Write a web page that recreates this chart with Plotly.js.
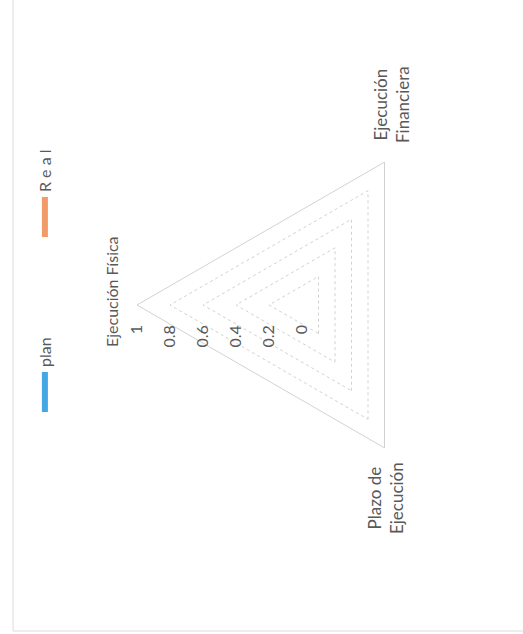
<!DOCTYPE html>
<html>
<head>
<meta charset="utf-8">
<script src="https://cdn.plot.ly/plotly-3.0.1.min.js"></script>
<style>
  html, body { margin: 0; padding: 0; background: #ffffff; overflow: hidden; }
  #wrap { position: absolute; left: 0; top: 0; width: 523px; height: 634px; overflow: hidden; }
  #chart { position: absolute; left: 0; top: 0; width: 634px; height: 523px;
           transform-origin: 0 0; transform: translate(0, 634px) rotate(-90deg); }
</style>
</head>
<body>
<div id="wrap"><div id="chart"></div></div>
<script>
// ---- data ----
const categories = ['Ejecución Física', 'Ejecución Financiera', 'Plazo de Ejecución'];
const categoryLabels = ['Ejecución Física', 'Ejecución<br>Financiera', 'Plazo de<br>Ejecución'];
const seriesNames = ['plan', 'R e a l'];
const planValues = [0, 0, 0];
const realValues = [0, 0, 0];
const radialTickVals = [0, 0.2, 0.4, 0.6, 0.8, 1];
const radialTickText = ['0', '0.2', '0.4', '0.6', '0.8', '1'];

const close = a => a.concat([a[0]]);
const textColor = '#595959';
const gridColor = '#d2d2d2';
const fontFam = 'Lato, "Open Sans", sans-serif';

const traces = [
  { type: 'scatterpolar', name: seriesNames[0], r: close(planValues), theta: close(categories),
    mode: 'lines', line: { color: '#45a6e4', width: 6 }, hoverinfo: 'skip' },
  { type: 'scatterpolar', name: seriesNames[1], r: close(realValues), theta: close(categories),
    mode: 'lines', line: { color: '#f29a68', width: 6 }, hoverinfo: 'skip' }
];

const W = 634, H = 523;
const cx = 329, cy = 302, R = 165;

// label placement (paper fractions) for the three category labels
const labelPos = [
  { x: 342 / W, y: 1 - 112 / H, size: 16 },
  { x: 529 / W, y: 1 - 391 / H, size: 17 },
  { x: 136 / W, y: 1 - 385 / H, size: 17 }
];

const layout = {
  width: W, height: H,
  margin: { l: 0, r: 0, t: 0, b: 0 },
  paper_bgcolor: '#ffffff',
  font: { family: fontFam, size: 15, color: textColor },
  showlegend: true,
  legend: {
    orientation: 'h', x: 217 / W, xanchor: 'left', y: 1 - 45 / H, yanchor: 'middle',
    itemwidth: 40, entrywidth: 120, font: { size: 16, color: textColor },
    bgcolor: 'rgba(0,0,0,0)'
  },
  polar: {
    domain: { x: [(cx - R) / W, (cx + R) / W], y: [(H - cy - R) / H, (H - cy + R) / H] },
    gridshape: 'linear',
    bgcolor: 'rgba(0,0,0,0)',
    radialaxis: {
      range: [0, 1], angle: 90, side: 'counterclockwise',
      tickvals: radialTickVals, ticktext: radialTickText, tickangle: 90,
      showline: false, showgrid: true, gridcolor: gridColor, griddash: 'dot', gridwidth: 1,
      ticks: 'outside', ticklen: 14, tickcolor: 'rgba(0,0,0,0)',
      tickfont: { size: 16, color: textColor }
    },
    angularaxis: {
      type: 'category', categoryarray: categories,
      rotation: 90, direction: 'clockwise',
      showticklabels: false,
      showgrid: false, showline: true, linecolor: gridColor, linewidth: 1,
      ticks: ''
    }
  },
  annotations: categoryLabels.map((t, i) => ({
    text: t, xref: 'paper', yref: 'paper', x: labelPos[i].x, y: labelPos[i].y,
    xanchor: 'center', yanchor: 'middle', align: 'center', showarrow: false,
    font: { size: labelPos[i].size, color: textColor, family: fontFam }
  })),
  shapes: [
    { type: 'rect', xref: 'paper', yref: 'paper', x0: 3 / W, x1: 1.2, y0: -0.2, y1: 1 - 13 / H,
      line: { color: '#dcdcdc', width: 1 }, fillcolor: 'rgba(0,0,0,0)', layer: 'below' }
  ]
};

Plotly.newPlot('chart', traces, layout, { displayModeBar: false, staticPlot: true });
</script>
</body>
</html>
